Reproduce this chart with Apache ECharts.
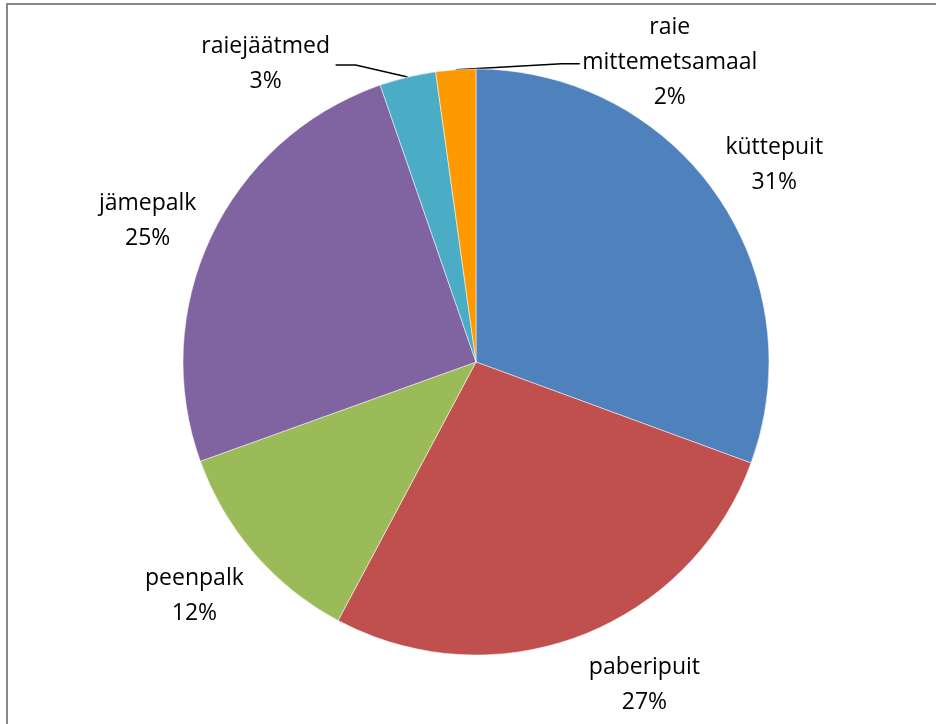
<!DOCTYPE html>
<html>
<head>
<meta charset="utf-8">
<style>
  html, body { margin: 0; padding: 0; background: #fff; }
  #chart { width: 936px; height: 724px; }
</style>
<script src="https://cdn.jsdelivr.net/npm/echarts@6/dist/echarts.min.js"></script>
</head>
<body>
<div id="chart"></div>
<script>
// ---- data ----
const categories = ['küttepuit', 'paberipuit', 'peenpalk', 'jämepalk', 'raiejäätmed', 'raie mittemetsamaal'];
const values = [30.6, 27.2, 11.7, 25.2, 3.1, 2.2];
const colors = ['#4F81BD', '#C0504D', '#9BBB59', '#8064A2', '#4BACC6', '#FF9900'];

// ---- layout: label center offset from the library-computed rim point of each slice ----
const labelOffsets = [
  { dx: 58, dy: -29 },
  { dx: 64, dy: 49 },
  { dx: -60, dy: 42 },
  { dx: -64, dy: -15 },
  { dx: -142, dy: -13, leader: true, side: 'left', elbow: -52, halfW: 70 },
  { dx: 214, dy: -7, leader: true, side: 'right', elbow: 106, halfW: 90 }
];

const chart = echarts.init(document.getElementById('chart'), null, { renderer: 'canvas' });

const font = { fontFamily: 'Open Sans', fontSize: 23, lineHeight: 35, color: '#000', align: 'center' };

chart.setOption({
  animation: false,
  backgroundColor: '#fff',
  graphic: [{
    type: 'rect',
    shape: { x: 7, y: 4, width: 1000, height: 800 },
    style: { fill: 'none', stroke: '#868686', lineWidth: 2 },
    silent: true
  }],
  series: [{
    type: 'pie',
    center: [476, 362],
    radius: 293,
    startAngle: 90,
    clockwise: true,
    percentPrecision: 0,
    avoidLabelOverlap: false,
    itemStyle: { borderColor: '#ffffff', borderWidth: 0.5 },
    label: {
      show: true,
      position: 'outside',
      formatter: function (p) {
        return '{n|' + p.name.replace(' ', '\n') + '}\n{n|' + p.percent + '%}';
      },
      rich: { n: font }
    },
    labelLine: {
      show: true,
      length: 20,
      length2: 10,
      lineStyle: { color: '#000', width: 1.5 }
    },
    labelLayout: function (params) {
      const o = labelOffsets[params.dataIndex];
      const p0 = params.labelLinePoints[0];
      const lx = p0[0] + o.dx, ly = p0[1] + o.dy;
      if (!o.leader) {
        return { x: lx, y: ly, align: 'center', verticalAlign: 'middle', labelLinePoints: [p0, p0, p0] };
      }
      const attachX = o.side === 'left' ? lx + o.halfW : lx - o.halfW;
      const lineY = ly + 1;
      return {
        x: lx,
        y: ly,
        align: 'center',
        verticalAlign: 'middle',
        labelLinePoints: [p0, [p0[0] + o.elbow, lineY], [attachX, lineY]]
      };
    },
    data: categories.map((c, i) => ({ name: c, value: values[i], itemStyle: { color: colors[i] } }))
  }]
});
</script>
</body>
</html>
